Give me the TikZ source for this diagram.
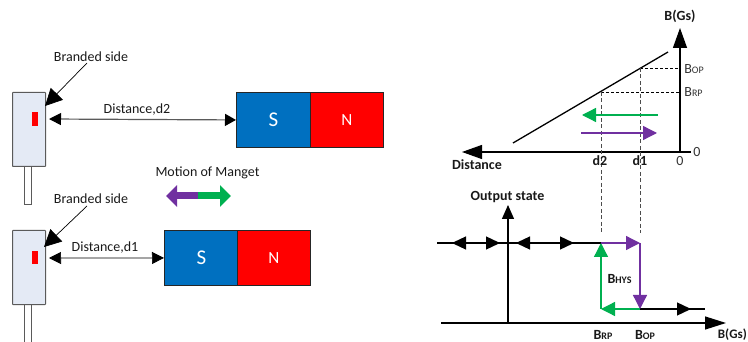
\documentclass[tikz,border=0pt]{standalone}
\usepackage{fontspec}
\setmainfont{Carlito}
\usetikzlibrary{arrows.meta}
\definecolor{senfill}{HTML}{E4EAF5}
\definecolor{sengray}{HTML}{5A5A5A}
\definecolor{magblue}{HTML}{0070C0}
\definecolor{magred}{HTML}{FF0000}
\definecolor{mpurple}{HTML}{7030A0}
\definecolor{mgreen}{HTML}{00B050}
\tikzset{
  sensorbody/.style={draw=sengray,line width=1pt,fill=senfill,minimum width=33pt,minimum height=74pt,inner sep=0pt,anchor=north west,rounded corners=0.5pt},
  sensorlead/.style={draw=sengray,line width=1pt,fill=white,minimum width=7pt,inner sep=0pt,anchor=north west},
  redmark/.style={fill=magred,minimum width=6pt,inner sep=0pt,anchor=north west},
  magS/.style={draw=black!85,line width=0.9pt,fill=magblue,text=white,minimum width=74pt,minimum height=55pt,inner sep=0pt,anchor=north west,font=\fontsize{21}{21}\selectfont},
  magN/.style={draw=black!85,line width=0.9pt,fill=magred,text=white,minimum width=73pt,minimum height=55pt,inner sep=0pt,anchor=north west,font=\fontsize{17}{17}\selectfont},
  lab/.style={inner sep=0pt,font=\fontsize{14}{16}\selectfont,text=black!90},
  blab/.style={inner sep=0pt,font=\fontsize{14}{16}\bfseries\selectfont,text=black!90},
  thinlab/.style={inner sep=0pt,font=\fontsize{14}{16}\selectfont,text=black!80},
  callout/.style={draw=black,line width=0.7pt,-{Triangle[length=17pt,width=17pt]}},
  dimgray/.style={line width=1.2pt,draw=sengray,{Triangle[length=12pt,width=12pt,color=black]}-{Triangle[length=11pt,width=12pt,color=black]}},
  dimblack/.style={line width=0.7pt,draw=black,{Triangle[length=12pt,width=12pt]}-{Triangle[length=12pt,width=12pt]}},
  graphline/.style={draw=black,line width=1.3pt},
  bigaxis/.style={graphline,-{Triangle[length=20pt,width=14pt]}},
  smallaxis/.style={graphline,-{Triangle[length=14pt,width=12pt]}},
  flow/.style={graphline,-{Triangle[length=14pt,width=13pt]}},
  guide/.style={draw=black,line width=0.7pt,dash pattern=on 3pt off 2pt},
  guidegray/.style={draw=black!70,line width=0.7pt,dash pattern=on 4pt off 2.5pt},
  pflow/.style={draw=mpurple,line width=1.3pt,-{Triangle[length=14pt,width=14pt]}},
  gflow/.style={draw=mgreen,line width=1.3pt,-{Triangle[length=14pt,width=14pt]}},
}
\newcommand{\Bsub}[1]{B{\fontsize{10}{10}\selectfont #1}}
\begin{document}
\begin{tikzpicture}[x=1pt,y=-1pt]
\useasboundingbox (0,0) rectangle (748,342);

% --- upper sensor
\node[sensorlead,minimum height=38pt] (lead1) at (24,166) {};
\node[sensorbody] (sen1) at (12,92) {};
\node[redmark,minimum height=14pt] (mark1) at (32,112) {};
\node[magS] (s1) at (236,92) {S};
\node[magN] (n1) at (310,92) {N};
\node[lab] (brand1) at (91,57) {Branded side};
\coordinate (brand1from) at (87,63);
\coordinate (brand1to) at (45,106);
\draw[callout] (brand1from) -- (brand1to);
\coordinate (d2a) at (49,119);
\draw[dimgray] (d2a) -- (s1.west);
\node[lab] (d2lab) at (137,110) {Distance,d2};

% --- motion
\node[lab] (motion) at (207.5,172.5) {Motion of Manget};
\coordinate (mmid) at (198,196);
\coordinate (mleft) at (166,196);
\coordinate (mright) at (231,196);
\draw[draw=mpurple,line width=7pt,-{Triangle[length=11pt,width=21pt,color=mpurple,sep=0pt]}] (mmid) -- (mleft);
\draw[draw=mgreen,line width=7pt,-{Triangle[length=11pt,width=21pt,color=mgreen,sep=0pt]}] (mmid) -- (mright);

% --- lower sensor
\node[sensorlead,minimum height=40pt] (lead2) at (24,304) {};
\node[sensorbody] (sen2) at (12,230) {};
\node[redmark,minimum height=13pt] (mark2) at (32,251) {};
\node[magS] (s2) at (164,230) {S};
\node[magN] (n2) at (237,230) {N};
\node[lab] (brand2) at (91,199) {Branded side};
\coordinate (brand2from) at (87,206);
\coordinate (brand2to) at (44,247);
\draw[callout] (brand2from) -- (brand2to);
\coordinate (d1a) at (49,258);
\draw[dimblack] (d1a) -- (s2.west);
\node[lab] (d1lab) at (105,248) {Distance,d1};

% --- upper graph
\coordinate (origin) at (680,152);
\coordinate (tick) at (691,152);
\coordinate (ytop) at (680,28);
\coordinate (xleft) at (462,152);
\draw[bigaxis] (origin) -- (ytop);
\draw[bigaxis] (tick) -- (xleft);
\coordinate (slopeA) at (513,143);
\coordinate (slopeB) at (668,52);
\draw[graphline] (slopeA) -- (slopeB);
\coordinate (opS) at (640,68);
\coordinate (opY) at (680,68);
\coordinate (rpS) at (601,92);
\coordinate (rpY) at (680,92);
\draw[guide] (opS) -- (opY);
\draw[guide] (rpS) -- (rpY);
\coordinate (d2low) at (601,233);
\coordinate (d1low) at (640,233);
\draw[guidegray] (rpS) -- (d2low);
\draw[guidegray] (opS) -- (d1low);
\coordinate (gS) at (658,115);
\coordinate (gE) at (582,115);
\coordinate (pS) at (581,133);
\coordinate (pE) at (657,133);
\draw[gflow] (gS) -- (gE);
\draw[pflow] (pS) -- (pE);
\node[blab] (bgs1) at (680,16) {B(Gs)};
\node[thinlab] (bop1) at (694,69) {\Bsub{OP}};
\node[thinlab] (brp1) at (693.5,92.5) {\Bsub{RP}};
\node[thinlab] (zero1) at (697,152) {0};
\node[thinlab] (zero2) at (680,161) {0};
\node[blab] (dist) at (477,165) {Distance};
\node[blab] (d2t) at (600,161) {d2};
\node[blab] (d1t) at (640,161) {d1};

% --- lower graph
\coordinate (hl) at (437,243);
\coordinate (a1) at (452,243);
\coordinate (a2) at (500,243);
\coordinate (a3) at (516,243);
\coordinate (a4) at (574,243);
\coordinate (hR) at (601,243);
\coordinate (hE) at (640,243);
\coordinate (lR) at (601,309);
\coordinate (lE) at (640,309);
\coordinate (a5) at (691,309);
\coordinate (lEnd) at (705,309);
\coordinate (axL) at (441,323);
\coordinate (axR) at (726,323);
\coordinate (vB) at (508,323);
\coordinate (vT) at (508,205);
\draw[smallaxis,-{Triangle[length=21pt,width=13pt]}] (axL) -- (axR);
\draw[smallaxis] (vB) -- (vT);
\draw[graphline] (hl) -- (hR);
\draw[flow] (476,243) -- (a1);
\draw[flow] (476,243) -- (a2);
\draw[flow] (545,243) -- (a3);
\draw[flow] (545,243) -- (a4);
\draw[graphline] (lE) -- (lEnd);
\draw[flow] (lE) -- (a5);
\draw[gflow] (lE) -- (lR);
\draw[gflow] (lR) -- (hR);
\draw[pflow] (hR) -- (hE);
\draw[pflow] (hE) -- (lE);
\node[blab] (out) at (507.5,197) {Output state};
\node[blab] (bhys) at (619.5,279) {\Bsub{HYS}};
\node[blab] (brp2) at (603,334.5) {\Bsub{RP}};
\node[blab] (bop2) at (645,334.5) {\Bsub{OP}};
\node[blab,anchor=east,font=\fontsize{13}{15}\bfseries\selectfont] (bgs2) at (747,335) {B(Gs)};
\end{tikzpicture}
\end{document}
